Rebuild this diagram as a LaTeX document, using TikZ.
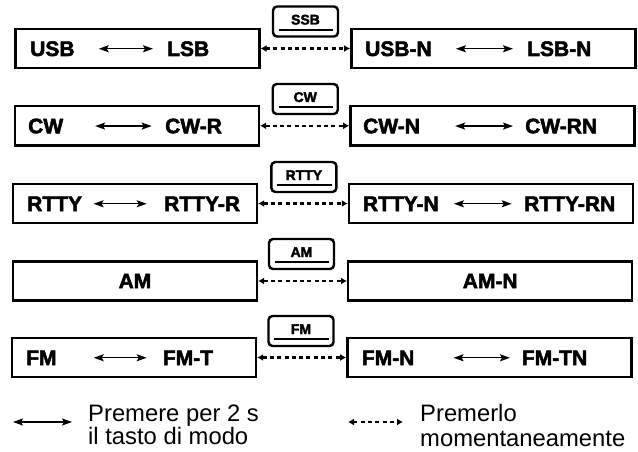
\documentclass[tikz,border=0pt]{standalone}
\usepackage{fontspec}
\setmainfont[BoldFeatures={FakeBold=2.5}]{Liberation Sans}
\usetikzlibrary{arrows.meta}
\begin{document}
\begin{tikzpicture}[x=1pt,y=-1pt,
  boxL/.style={draw, line width=2.4pt, minimum width=244pt, minimum height=39pt, inner sep=0pt},
  boxR/.style={draw, line width=2.4pt, minimum width=284pt, minimum height=39pt, inner sep=0pt},
  bigfont/.style={font=\bfseries\fontsize{21}{25}\selectfont},
  lbl/.style={bigfont, inner sep=0pt, anchor=base west},
  tw/.style={line width=1.4pt, {Stealth[length=10pt,width=7pt,inset=2pt]}-{Stealth[length=10pt,width=7pt,inset=2pt]}},
  mid/.style={line width=2.2pt, dash pattern=on 4pt off 3.3pt, {Latex[length=6pt,width=7pt]}-{Latex[length=6pt,width=7pt]}},
  keybox/.style={draw, line width=2.4pt, rounded corners=4pt, minimum width=65pt, minimum height=30pt, inner sep=0pt,
    text height=10pt, text depth=4pt, font=\bfseries\fontsize{14}{16}\selectfont},
  keyline/.style={line width=2pt},
  legtext/.style={font=\fontsize{23.8}{27}\selectfont, inner sep=0pt, anchor=base west}
]
\useasboundingbox (0,0) rectangle (638,452);

% ---------- Row 1 ----------
\node[boxL] (L1) at (137.3,48.5) {};
\node[boxR] (R1) at (493.3,48.5) {};
\node[keybox] (K1) at (305.5,21.5) {SSB};
\draw[keyline] ([xshift=7pt,yshift=8pt]K1.south west) -- ([xshift=-6pt,yshift=8pt]K1.south east);
\draw[mid] (L1.east) -- (R1.west);
\node[lbl] (a1) at (30,56) {USB};
\node[lbl] (b1) at (167,56) {LSB};
\draw[tw] ([xshift=24pt]a1.east) -- ([xshift=-14pt]b1.west);
\node[lbl] (c1) at (365,56) {USB-N};
\node[lbl] (d1) at (527,56) {LSB-N};
\draw[tw] ([xshift=24pt]c1.east) -- ([xshift=-14pt]d1.west);

% ---------- Row 2 ----------
\node[boxL] (L2) at (136.9,125.8) {};
\node[boxR] (R2) at (492.4,125.8) {};
\node[keybox] (K2) at (305.2,99) {CW};
\draw[keyline] ([xshift=7pt,yshift=8pt]K2.south west) -- ([xshift=-6pt,yshift=8pt]K2.south east);
\draw[mid] (L2.east) -- (R2.west);
\node[lbl] (a2) at (28,133.3) {CW};
\node[lbl] (b2) at (165,133.3) {CW-R};
\draw[tw] ([xshift=31.7pt]a2.east) -- ([xshift=-13.3pt]b2.west);
\node[lbl] (c2) at (363,133.3) {CW-N};
\node[lbl] (d2) at (525,133.3) {CW-RN};
\draw[tw] ([xshift=35pt]c2.east) -- ([xshift=-12pt]d2.west);

% ---------- Row 3 ----------
\node[boxL] (L3) at (135,203.5) {};
\node[boxR] (R3) at (491,203.5) {};
\node[keybox] (K3) at (303.9,177) {RTTY};
\draw[keyline] ([xshift=7pt,yshift=8pt]K3.south west) -- ([xshift=-6pt,yshift=8pt]K3.south east);
\draw[mid] (L3.east) -- (R3.west);
\node[lbl] (a3) at (27,211) {RTTY};
\node[lbl] (b3) at (164,211) {RTTY-R};
\draw[tw] ([xshift=11.3pt]a3.east) -- ([xshift=-17.3pt]b3.west);
\node[lbl] (c3) at (362.7,211) {RTTY-N};
\node[lbl] (d3) at (524,211) {RTTY-RN};
\draw[tw] ([xshift=15pt]c3.east) -- ([xshift=-12.3pt]d3.west);

% ---------- Row 4 ----------
\node[boxL, bigfont] (L4) at (135,281) {AM};
\node[boxR, bigfont] (R4) at (490.2,281) {AM-N};
\node[keybox] (K4) at (301.5,254) {AM};
\draw[keyline] ([xshift=7pt,yshift=8pt]K4.south west) -- ([xshift=-6pt,yshift=8pt]K4.south east);
\draw[mid] (L4.east) -- (R4.west);

% ---------- Row 5 ----------
\node[boxL] (L5) at (134,357.5) {};
\node[boxR] (R5) at (489.4,357.5) {};
\node[keybox] (K5) at (301,331) {FM};
\draw[keyline] ([xshift=7pt,yshift=8pt]K5.south west) -- ([xshift=-6pt,yshift=8pt]K5.south east);
\draw[mid] (L5.east) -- (R5.west);
\node[lbl] (a5) at (26,365) {FM};
\node[lbl] (b5) at (162.7,365) {FM-T};
\draw[tw] ([xshift=37pt]a5.east) -- ([xshift=-16pt]b5.west);
\node[lbl] (c5) at (361.7,365) {FM-N};
\node[lbl] (d5) at (521.7,365) {FM-TN};
\draw[tw] ([xshift=39pt]c5.east) -- ([xshift=-11.7pt]d5.west);

% ---------- Legend ----------
\coordinate (la1) at (13,422);
\coordinate (la2) at (72,422);
\draw[tw] (la1) -- (la2);
\node[legtext] (t1) at (88,421) {Premere per 2 s};
\node[legtext] (t2) at (88,444.5) {il tasto di modo};
\coordinate (lb1) at (348,422);
\coordinate (lb2) at (403,422);
\draw[mid, line width=1.8pt] (lb1) -- (lb2);
\node[legtext] (t3) at (420,421) {Premerlo};
\node[legtext] (t4) at (420,446) {momentaneamente};
\end{tikzpicture}
\end{document}
